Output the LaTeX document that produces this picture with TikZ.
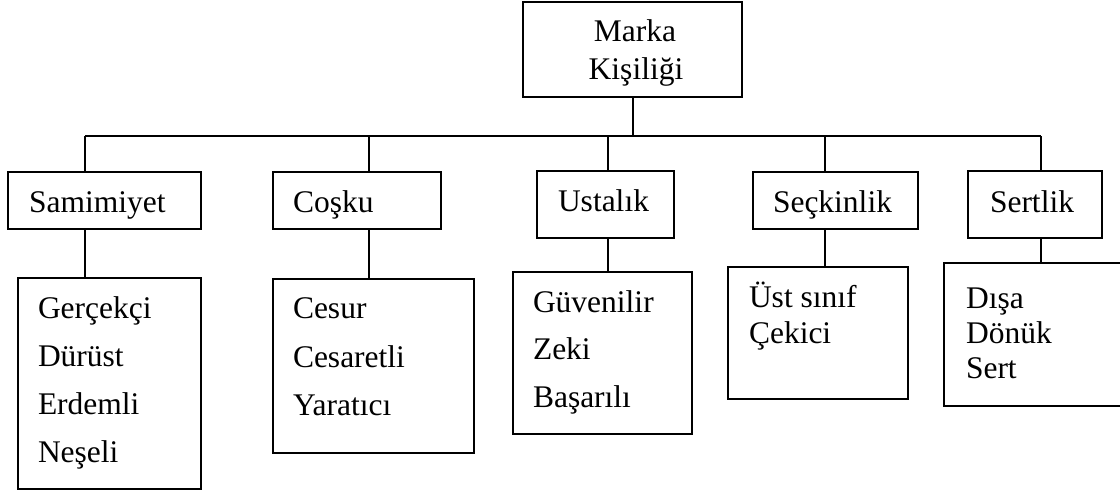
\documentclass[tikz,border=0pt]{standalone}
\usepackage{fontspec}
\setmainfont{Liberation Serif}
\tikzset{
  box/.style={draw=black, line width=2pt, inner sep=0pt, outer sep=0pt, anchor=north west, fill=white},
  txt/.style={inner sep=0pt, outer sep=0pt, anchor=base west, font=\fontsize{31.5}{38}\selectfont},
  ctxt/.style={txt, anchor=base},
  conn/.style={draw=black, line width=1.8pt}
}
\begin{document}
\begin{tikzpicture}[x=1pt, y=-1pt]
\useasboundingbox (0,0) rectangle (1120,496);
\fill[white] (0,0) rectangle (1120,496);
% top box
\node[box, minimum width=219pt, minimum height=95pt] (top) at (523,2) {};
\node[ctxt] (topa) at (635,41) {Marka};
\node[ctxt] (topb) at (636,79) {Kişiliği};
% level 1
\node[box, minimum width=193pt, minimum height=57pt] (b1) at (8,172) {};
\node[box, minimum width=168pt, minimum height=57pt] (b2) at (273,172) {};
\node[box, minimum width=137pt, minimum height=67pt] (b3) at (537,171) {};
\node[box, minimum width=165pt, minimum height=57pt] (b4) at (753,172) {};
\node[box, minimum width=134pt, minimum height=67pt] (b5) at (968,171) {};
\node[txt] (b1t) at (29,212) {Samimiyet};
\node[txt] (b2t) at (293,212) {Coşku};
\node[txt] (b3t) at (558,211) {Ustalık};
\node[txt] (b4t) at (773,212) {Seçkinlik};
\node[txt] (b5t) at (990,212) {Sertlik};
% level 2
\node[box, minimum width=183pt, minimum height=211pt] (c1) at (18,278) {};
\node[box, minimum width=201pt, minimum height=174pt] (c2) at (273,279) {};
\node[box, minimum width=179pt, minimum height=162pt] (c3) at (513,272) {};
\node[box, minimum width=180pt, minimum height=132pt] (c4) at (728,267) {};
\node[box, minimum width=190pt, minimum height=143pt] (c5) at (944,263) {};
\node[txt] (c1a) at (38,318) {Gerçekçi};
\node[txt] (c1b) at (38,366) {Dürüst};
\node[txt] (c1c) at (38,414) {Erdemli};
\node[txt] (c1d) at (38,462) {Neşeli};
\node[txt] (c2a) at (293,318) {Cesur};
\node[txt] (c2b) at (293,367) {Cesaretli};
\node[txt] (c2c) at (293,415) {Yaratıcı};
\node[txt] (c3a) at (533,312) {Güvenilir};
\node[txt] (c3b) at (533,359) {Zeki};
\node[txt] (c3c) at (533,407) {Başarılı};
\node[txt] (c4a) at (749,307) {Üst sınıf};
\node[txt] (c4b) at (749,343) {Çekici};
\node[txt] (c5a) at (966,308) {Dışa};
\node[txt] (c5b) at (966,343) {Dönük};
\node[txt] (c5c) at (966,378) {Sert};
% junction coordinates
\coordinate (jt) at (633,136);
\coordinate (j1) at (85,136);
\coordinate (j2) at (369,136);
\coordinate (j3) at (608,136);
\coordinate (j4) at (825,136);
\coordinate (j5) at (1041,136);
% connectors
\draw[conn] (top.south -| jt) -- (jt);
\draw[conn] (j1) -- (j5);
\foreach \i in {1,...,5} {
  \draw[conn] (j\i) -- (j\i |- b\i.north);
  \draw[conn] (b\i.south -| j\i) -- (c\i.north -| j\i);
}
\end{tikzpicture}
\end{document}
